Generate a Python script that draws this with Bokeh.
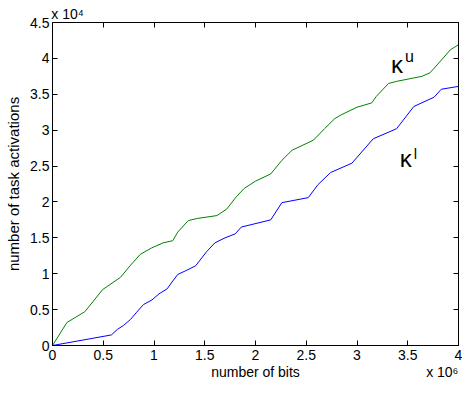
from bokeh.plotting import figure
from bokeh.models import LinearAxis, FixedTicker, Label, Range1d
from bokeh.embed import file_html
from bokeh.resources import INLINE

# ---- data (bits, task activations) ----
upper_bits = [0, 0.142e6, 0.318e6, 0.495e6, 0.67e6, 0.77e6, 0.865e6, 0.977e6, 1.09e6, 1.185e6,
              1.234e6, 1.337e6, 1.426e6, 1.62e6, 1.716e6, 1.81e6, 1.89e6, 2.0e6, 2.15e6, 2.26e6,
              2.36e6, 2.57e6, 2.68e6, 2.78e6, 2.84e6, 3.0e6, 3.145e6, 3.19e6, 3.31e6, 3.39e6,
              3.64e6, 3.72e6, 3.84e6, 3.92e6, 4.0e6]
upper_acts = [0, 3200, 4700, 7800, 9500, 11200, 12700, 13600, 14300, 14600,
              15800, 17400, 17700, 18100, 19000, 20700, 21900, 22900, 23900, 25800,
              27200, 28600, 30200, 31600, 32100, 33200, 33800, 34700, 36500, 36800,
              37500, 38000, 39900, 41200, 41900]
lower_bits = [0, 0.58e6, 0.64e6, 0.70e6, 0.77e6, 0.83e6, 0.896e6, 0.98e6, 1.05e6, 1.13e6,
              1.17e6, 1.234e6, 1.31e6, 1.41e6, 1.52e6, 1.60e6, 1.70e6, 1.80e6, 1.86e6, 2.15e6,
              2.26e6, 2.52e6, 2.615e6, 2.74e6, 2.95e6, 3.16e6, 3.39e6, 3.56e6, 3.76e6, 3.83e6, 4.0e6]
lower_acts = [0, 1470, 2250, 2800, 3650, 4650, 5700, 6350, 7200, 7900,
              8700, 9900, 10400, 11100, 13100, 14300, 15000, 15550, 16500, 17500,
              19900, 20600, 22400, 24100, 25400, 28800, 30200, 33300, 34600, 35700, 36100]

x_ticks = [0, 0.5e6, 1e6, 1.5e6, 2e6, 2.5e6, 3e6, 3.5e6, 4e6]
x_tick_labels = ["0", "0.5", "1", "1.5", "2", "2.5", "3", "3.5", "4"]
y_ticks = [0, 5000, 10000, 15000, 20000, 25000, 30000, 35000, 40000, 45000]
y_tick_labels = ["0", "0.5", "1", "1.5", "2", "2.5", "3", "3.5", "4", "4.5"]

x_title = "number of bits"
y_title = "number of task activations"
x_exponent = "x 10\u2076"
y_exponent = "x 10\u2074"

FONT = "Liberation Sans"

p = figure(width=462, height=382, output_backend="svg", toolbar_location=None,
           x_range=Range1d(0, 4e6), y_range=Range1d(0, 45000),
           min_border_left=52, min_border_right=4, min_border_top=22, min_border_bottom=37,
           x_axis_location=None, y_axis_location=None)
p.grid.visible = False
p.outline_line_color = "black"
p.outline_line_width = 1

def make_axis(ticks, labels, show_labels, tick_len=5, line=True):
    ax = LinearAxis(ticker=FixedTicker(ticks=ticks, minor_ticks=[]),
                    major_label_overrides={t: l for t, l in zip(ticks, labels)})
    ax.major_tick_in = tick_len
    ax.major_tick_out = 0
    ax.minor_tick_in = 0
    ax.minor_tick_out = 0
    ax.axis_line_color = "black" if line else None
    ax.major_tick_line_color = "black" if tick_len else None
    ax.major_label_text_font = FONT
    if show_labels:
        ax.major_label_text_font_size = "14px"
        ax.major_label_text_color = "black"
    else:
        ax.major_label_text_font_size = "0px"
        ax.major_label_text_color = None
        ax.major_label_standoff = 0
    return ax

# bottom: ticks + tick labels
xb = make_axis(x_ticks, x_tick_labels, True)
xb.major_label_standoff = 4
p.add_layout(xb, "below")
# bottom second row: axis title and exponent on one line
xt = make_axis([2e6, 3.84e6], [x_title, x_exponent], True, tick_len=0, line=False)
xt.major_label_standoff = 1
p.add_layout(xt, "below")

# left: ticks + tick labels + title
yl = make_axis(y_ticks, y_tick_labels, True)
yl.major_label_standoff = 3
yl.axis_label = y_title
yl.axis_label_text_font = FONT
yl.axis_label_text_font_style = "normal"
yl.axis_label_text_font_size = "15px"
yl.axis_label_text_color = "black"
yl.axis_label_standoff = 5
p.add_layout(yl, "left")

# box ticks on top and right
p.add_layout(make_axis(x_ticks, x_tick_labels, False), "above")
p.add_layout(make_axis(y_ticks, y_tick_labels, False), "right")
# top exponent
xe = make_axis([0.148e6], [y_exponent], True, tick_len=0, line=False)
xe.major_label_standoff = 1
p.add_layout(xe, "above")

p.line(upper_bits, upper_acts, line_color="#008000", line_width=1)
p.line(lower_bits, lower_acts, line_color="#0000ff", line_width=1)

def lab(x, y, text, size, xo=0, yo=0):
    p.add_layout(Label(x=x, y=y, x_offset=xo, y_offset=yo, text=text, text_font=FONT,
                       text_font_size=size, text_color="black", text_align="left",
                       text_baseline="alphabetic"))

# curve labels
lab(3.335e6, 39100, "\u03ba", "24px")
lab(3.335e6, 39100, "u", "16px", xo=14, yo=8)
lab(3.42e6, 26100, "\u03ba", "24px")
lab(3.42e6, 26100, "l", "15px", xo=14, yo=5)

open("out.html", "w").write(file_html(p, INLINE))
